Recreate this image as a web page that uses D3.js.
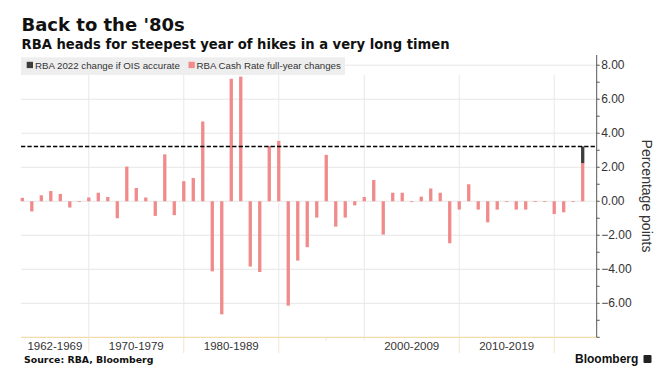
<!DOCTYPE html>
<html>
<head>
<meta charset="utf-8">
<script src="https://cdn.jsdelivr.net/npm/d3@7"></script>
<style>
  html, body { margin: 0; padding: 0; background: #ffffff; }
  svg { display: block; }
</style>
</head>
<body>
<svg id="chart" width="667" height="382"></svg>
<script>
// ---------------- data ----------------
const years = [1962,1963,1964,1965,1966,1967,1968,1969,
  1970,1971,1972,1973,1974,1975,1976,1977,1978,1979,
  1980,1981,1982,1983,1984,1985,1986,1987,1988,1989,
  1990,1991,1992,1993,1994,1996,1997,1998,1999,
  2000,2001,2002,2003,2004,2005,2006,2007,2008,2009,
  2010,2011,2012,2013,2014,2015,2016,2017,2018,2019,
  2020,2021,2022];
const cashRateChanges = [0.2,-0.6,0.35,0.6,0.43,-0.37,0,0.22,
  0.5,0.25,-1.0,2.04,0.78,0.22,-0.86,2.76,-0.82,1.18,
  1.37,4.69,-4.12,-6.65,7.2,7.33,-3.84,-4.16,3.24,3.55,
  -6.14,-3.49,-2.7,-0.96,2.73,-1.49,-0.96,-0.24,0.25,
  1.25,-1.96,0.5,0.5,0,0.27,0.75,0.5,-2.47,-0.49,
  1.0,-0.49,-1.24,-0.49,0,-0.49,-0.49,0,0,-0.75,
  -0.65,0,2.24];
const oisYear = 2022;
const oisExtra = 0.98;          // additional 2022 change if OIS accurate
const oisTotal = 3.22;          // dashed reference line
const decadeLabels = ["1962-1969","1970-1979","1980-1989","","2000-2009","2010-2019"];
const decadeEnds = [1969,1979,1989,1999,2009,2019];
const yTicks = [8,6,4,2,0,-2,-4,-6];
const legendLabels = ["RBA 2022 change if OIS accurate","RBA Cash Rate full-year changes"];
const titleText = "Back to the '80s";
const subtitleText = "RBA heads for steepest year of hikes in a very long timen";
const sourceText = "Source: RBA, Bloomberg";
const yAxisTitle = "Percentage points";

// ---------------- layout ----------------
const svg = d3.select("#chart");
const plotL = 21, plotR = 596.7, plotT = 55, plotB = 337.3;
const pink = "#f08a8b", dark = "#3d3d3d";
const bodyFont = "'Liberation Sans', Arial, sans-serif";

const x = d3.scalePoint().domain(years).range([22.3, 582.7]);
const y = d3.scaleLinear().domain([-8, 8.6]).range([plotB, plotT]);

// horizontal gridlines
svg.append("g").selectAll("line").data(yTicks).join("line")
  .attr("x1", plotL).attr("x2", plotR)
  .attr("y1", d => y(d)).attr("y2", d => y(d))
  .attr("stroke", "#e6e6e6").attr("stroke-width", 1);

// vertical decade gridlines
svg.append("g").selectAll("line").data(decadeEnds).join("line")
  .attr("x1", d => x(d)).attr("x2", d => x(d))
  .attr("y1", 75).attr("y2", plotB)
  .attr("stroke", "#e8e8e8").attr("stroke-width", 1);

// legend band
const leg = svg.append("g");
leg.append("rect").attr("x", plotL).attr("y", 57.3).attr("width", 324).attr("height", 17.7)
  .attr("fill", "#eeeeee");
leg.append("rect").attr("x", 26.7).attr("y", 61.8).attr("width", 6.3).attr("height", 6.3).attr("fill", dark);
leg.append("text").attr("x", 35).attr("y", 69).text(legendLabels[0])
  .attr("font-family", bodyFont).attr("font-size", 9.7).attr("fill", "#333");
leg.append("rect").attr("x", 188.5).attr("y", 61.8).attr("width", 6.3).attr("height", 6.3).attr("fill", pink);
leg.append("text").attr("x", 196.5).attr("y", 69).text(legendLabels[1])
  .attr("font-family", bodyFont).attr("font-size", 9.7).attr("fill", "#333");

// bars
const barW = 3.3;
svg.append("g").selectAll("rect").data(years.map((yr, i) => ({yr, v: cashRateChanges[i]}))).join("rect")
  .attr("x", d => x(d.yr) - barW / 2)
  .attr("width", barW)
  .attr("y", d => d.v >= 0 ? y(d.v) : y(0))
  .attr("height", d => Math.max(0.8, Math.abs(y(d.v) - y(0))))
  .attr("fill", pink);

// OIS extra (stacked on 2022)
const base2022 = cashRateChanges[years.indexOf(oisYear)];
svg.append("rect")
  .attr("x", x(oisYear) - barW / 2).attr("width", barW)
  .attr("y", y(base2022 + oisExtra))
  .attr("height", y(base2022) - y(base2022 + oisExtra))
  .attr("fill", dark);

// dashed line
svg.append("line")
  .attr("x1", plotL).attr("x2", plotR)
  .attr("y1", y(oisTotal)).attr("y2", y(oisTotal))
  .attr("stroke", "#000").attr("stroke-width", 1.7)
  .attr("stroke-dasharray", "4.3,2.1");

// bottom axis
svg.append("line").attr("x1", plotL).attr("x2", plotR).attr("y1", plotB).attr("y2", plotB)
  .attr("stroke", "#f2dcaa").attr("stroke-width", 1.3);
svg.append("g").selectAll("line").data(decadeEnds).join("line")
  .attr("x1", d => x(d)).attr("x2", d => x(d))
  .attr("y1", plotB).attr("y2", d => d === 1999 ? plotB + 3 : 353)
  .attr("stroke", "#f2e6cc").attr("stroke-width", 1);
svg.append("line").attr("x1", x(1994)).attr("x2", x(1994)).attr("y1", plotB).attr("y2", plotB + 3)
  .attr("stroke", "#eee2c8");

// decade labels
const bounds = [plotL].concat(decadeEnds.map(d => x(d)));
svg.append("g").selectAll("text").data(decadeLabels).join("text")
  .attr("x", (d, i) => (bounds[i] + bounds[i + 1]) / 2)
  .attr("y", 349.5)
  .attr("text-anchor", "middle")
  .attr("font-family", bodyFont).attr("font-size", 11.5).attr("fill", "#333")
  .text(d => d);

// right y axis
const yAxis = svg.append("g");
yAxis.append("line").attr("x1", plotR).attr("x2", plotR).attr("y1", plotT).attr("y2", plotB)
  .attr("stroke", "#555").attr("stroke-width", 1);
yAxis.selectAll("line.minor").data(d3.range(-8, 9, 1)).join("line").attr("class", "minor")
  .attr("x1", plotR).attr("x2", plotR + 3)
  .attr("y1", d => y(d)).attr("y2", d => y(d))
  .attr("stroke", "#555");
yAxis.selectAll("text").data(yTicks).join("text")
  .attr("x", plotR + 4.5).attr("y", d => y(d) + 4.2)
  .attr("font-family", bodyFont).attr("font-size", 12).attr("fill", "#333")
  .text(d => d3.format(".2f")(d));

svg.append("text")
  .attr("transform", `translate(642,196) rotate(90)`)
  .attr("text-anchor", "middle")
  .attr("font-family", bodyFont).attr("font-size", 14).attr("fill", "#333")
  .text(yAxisTitle);

// titles
svg.append("text").attr("x", 21.5).attr("y", 30.7)
  .attr("font-family", "'DejaVu Sans', sans-serif").attr("font-weight", "bold").attr("font-size", 18)
  .attr("fill", "#111").text(titleText);
svg.append("text").attr("x", 21.5).attr("y", 48.6)
  .attr("font-family", "'DejaVu Sans', sans-serif").attr("font-weight", "bold").attr("font-size", 14)
  .attr("textLength", 428).attr("lengthAdjust", "spacingAndGlyphs")
  .attr("fill", "#111").text(subtitleText);

// source & logo
svg.append("text").attr("x", 24).attr("y", 362.5)
  .attr("font-family", "'DejaVu Sans', sans-serif").attr("font-weight", "bold").attr("font-size", 9.4)
  .attr("fill", "#111").text(sourceText);
svg.append("text").attr("x", 575).attr("y", 363)
  .attr("font-family", bodyFont).attr("font-weight", "bold").attr("font-size", 12)
  .attr("fill", "#111").text("Bloomberg");
svg.append("rect").attr("x", 643.5).attr("y", 355).attr("width", 8).attr("height", 8).attr("rx", 1)
  .attr("fill", "#222");
</script>
</body>
</html>
